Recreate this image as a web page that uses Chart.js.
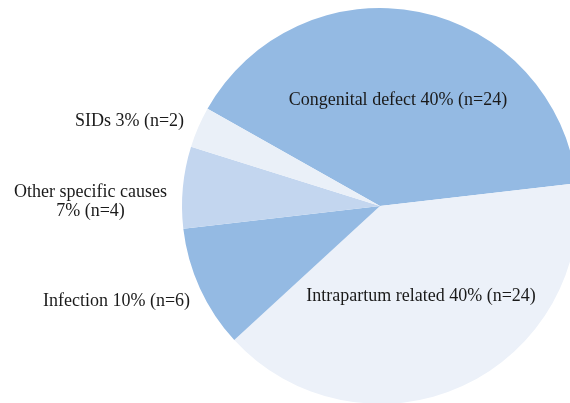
<!DOCTYPE html>
<html>
<head>
<meta charset="utf-8">
<script src="https://cdn.jsdelivr.net/npm/chart.js@4/dist/chart.umd.min.js"></script>
<style>
  html, body { margin: 0; padding: 0; width: 570px; height: 403px; overflow: hidden; background: #ffffff; }
  #wrap { position: absolute; left: 0; top: 0; width: 600px; height: 420px; }
</style>
</head>
<body>
<div id="wrap"><canvas id="c" width="600" height="420"></canvas></div>
<script>
const categories = ['Congenital defect', 'Intrapartum related', 'Infection', 'Other specific causes', 'SIDs'];
const counts = [24, 24, 6, 4, 2];
const percents = ['40%', '40%', '10%', '7%', '3%'];
const colors = ['#94bae3', '#ecf1f9', '#94bae3', '#c3d6ef', '#eaf0f8'];

// label placement: angle (deg, clockwise from 3 o'clock) and distance as a fraction of the radius
const labelPlacement = [
  { inside: true,  angle: -80.4, dist: 0.543 },
  { inside: true,  angle: 65.5,  dist: 0.50 },
  { inside: false, angle: 153.4, dist: 1.073 },
  { inside: false, angle: 181.1, dist: 1.076 },
  { inside: false, angle: -156.6, dist: 1.078 }
];

const labelPlugin = {
  id: 'sliceLabels',
  afterDatasetsDraw(chart) {
    const ctx = chart.ctx;
    const meta = chart.getDatasetMeta(0);
    ctx.save();
    ctx.font = '18px "Liberation Serif", "Times New Roman", serif';
    ctx.fillStyle = '#1a1a1a';
    ctx.textBaseline = 'middle';
    const lineH = 19;
    meta.data.forEach((arc, i) => {
      const p = arc.getProps(['x', 'y', 'outerRadius'], true);
      const pl = labelPlacement[i];
      const a = pl.angle * Math.PI / 180;
      const r = p.outerRadius * pl.dist;
      const ax = p.x + Math.cos(a) * r;
      const ay = p.y + Math.sin(a) * r;
      let lines;
      if (categories[i] === 'Other specific causes') {
        lines = [categories[i], percents[i] + ' (n=' + counts[i] + ')'];
      } else {
        lines = [categories[i] + ' ' + percents[i] + ' (n=' + counts[i] + ')'];
      }
      ctx.textAlign = 'center';
      if (pl.inside) {
        ctx.fillText(lines[0], ax, ay);
      } else {
        const w = Math.max(...lines.map(l => ctx.measureText(l).width));
        const cx = ax - w / 2;
        const y0 = ay - (lines.length - 1) * lineH / 2;
        lines.forEach((l, k) => ctx.fillText(l, cx, y0 + k * lineH));
      }
    });
    ctx.restore();
  }
};

new Chart(document.getElementById('c'), {
  type: 'pie',
  data: {
    labels: categories,
    datasets: [{
      data: counts,
      backgroundColor: colors,
      borderWidth: 0,
      hoverOffset: 0
    }]
  },
  options: {
    responsive: false,
    animation: false,
    rotation: -60.6,
    layout: { padding: { left: 182, top: 8, right: 22, bottom: 16 } },
    plugins: {
      legend: { display: false },
      tooltip: { enabled: false }
    }
  },
  plugins: [labelPlugin]
});
</script>
</body>
</html>
